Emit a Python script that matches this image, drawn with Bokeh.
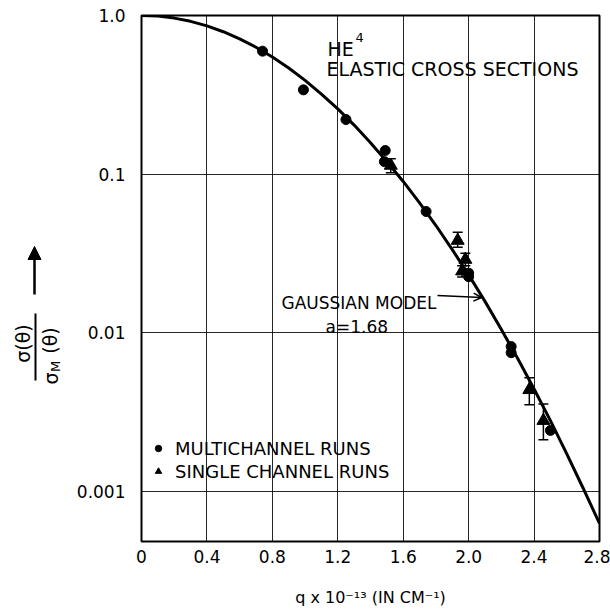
import math
from bokeh.plotting import figure
from bokeh.layouts import row
from bokeh.models import (Label, Arrow, NormalHead, OpenHead, TeeHead, Whisker,
                          ColumnDataSource, FixedTicker, Legend, LegendItem)
from bokeh.embed import file_html
from bokeh.resources import INLINE

# ---- data ----
model_q = [0.0, 0.1, 0.2, 0.3, 0.4, 0.5, 0.6, 0.7, 0.8, 0.9, 1.0, 1.1, 1.2, 1.3, 1.4,
           1.5, 1.6, 1.7, 1.8, 1.9, 2.0, 2.1, 2.2, 2.3, 2.4, 2.5, 2.6, 2.7, 2.8]
model_ratio = [1.0, 0.991, 0.963, 0.919, 0.860, 0.790, 0.713, 0.631, 0.548, 0.467,
               0.390, 0.320, 0.258, 0.204, 0.158, 0.120, 0.090, 0.066, 0.0475, 0.0335,
               0.0232, 0.0158, 0.0105, 0.0069, 0.00443, 0.00280, 0.00173, 0.00105, 0.00063]

multi_q = [0.74, 0.99, 1.25, 1.49, 1.485, 1.74, 2.00, 2.00, 2.26, 2.26, 2.50]
multi_ratio = [0.596, 0.340, 0.221, 0.141, 0.120, 0.0582, 0.0238, 0.0226, 0.0082, 0.0075, 0.00243]

single_q = [1.524, 1.933, 1.98, 1.96, 2.371, 2.457]
single_ratio = [0.1135, 0.0382, 0.0290, 0.0245, 0.00438, 0.0028]
single_hi = [0.125, 0.0431, 0.0318, 0.0265, 0.00521, 0.00357]
single_lo = [0.102, 0.0347, 0.0265, 0.0225, 0.00352, 0.00212]

x_ticks = [0.0, 0.4, 0.8, 1.2, 1.6, 2.0, 2.4, 2.8]
x_tick_labels = ["0", "0.4", "0.8", "1.2", "1.6", "2.0", "2.4", "2.8"]
y_ticks = [0.001, 0.01, 0.1, 1.0]
y_tick_labels = ["0.001", "0.01", "0.1", "1.0"]

FONT = "DejaVu Sans"

# ---- layout geometry (pixels) ----
SIDE_W = 70                      # narrow panel holding the y quantity
FL, FR, FT, FB = 141, 599, 15, 541
DEC = 158.7
Y_BOTTOM = 10 ** (-(FB - FT) / DEC)


def xd(px):
    return (px - FL) / (FR - FL) * 2.8


def yd(py):
    return 10 ** (-(py - FT) / DEC)


p = figure(width=610 - SIDE_W, height=611, x_range=(0, 2.8), y_range=(Y_BOTTOM, 1.0),
           y_axis_type="log", output_backend="svg", toolbar_location=None,
           min_border_left=FL - SIDE_W, min_border_right=610 - FR, min_border_top=FT,
           min_border_bottom=611 - FB)
p.outline_line_color = "black"
p.outline_line_width = 2
p.background_fill_color = "white"
p.border_fill_color = "white"

# axes
xa = p.xaxis[0]
xa.ticker = FixedTicker(ticks=x_ticks)
xa.major_label_overrides = dict(zip(x_ticks, x_tick_labels))
xa.major_tick_out = 0
xa.major_tick_in = 0
xa.minor_tick_line_color = None
xa.axis_line_color = None
xa.major_label_text_font = FONT
xa.major_label_text_font_size = "17px"
xa.major_label_text_color = "black"
xa.major_label_standoff = 8
xa.axis_label = "q x 10\u207b\u00b9\u00b3 (IN CM\u207b\u00b9)"
xa.axis_label_text_font = FONT
xa.axis_label_text_font_size = "16px"
xa.axis_label_text_font_style = "normal"
xa.axis_label_text_color = "black"
xa.axis_label_standoff = 22

ya = p.yaxis[0]
ya.ticker = FixedTicker(ticks=y_ticks)
ya.major_label_overrides = dict(zip(y_ticks, y_tick_labels))
ya.major_tick_out = 0
ya.major_tick_in = 0
ya.minor_tick_line_color = None
ya.axis_line_color = None
ya.major_label_text_font = FONT
ya.major_label_text_font_size = "17px"
ya.major_label_text_color = "black"
ya.major_label_standoff = 16

p.xgrid.ticker = FixedTicker(ticks=x_ticks)
p.ygrid.ticker = FixedTicker(ticks=y_ticks)
for g in (p.xgrid[0], p.ygrid[0]):
    g.grid_line_color = "black"
    g.grid_line_width = 1
    g.grid_line_alpha = 0.85

# model curve
p.line(model_q, model_ratio, line_width=3, color="black")

# error bars
src = ColumnDataSource(dict(q=single_q, hi=single_hi, lo=single_lo))
p.add_layout(Whisker(source=src, base="q", upper="hi", lower="lo", line_color="black",
                     line_width=1.5,
                     upper_head=TeeHead(size=10, line_width=1.5, line_color="black"),
                     lower_head=TeeHead(size=10, line_width=1.5, line_color="black")))

r_multi = p.scatter(multi_q, multi_ratio, marker="circle", size=10, color="black")
r_single = p.scatter(single_q, single_ratio, marker="triangle", size=13, color="black")

legend = Legend(items=[LegendItem(label="MULTICHANNEL RUNS", renderers=[r_multi]),
                       LegendItem(label="SINGLE CHANNEL RUNS", renderers=[r_single])],
                location=(9, 59), border_line_color=None, background_fill_alpha=0,
                padding=0, margin=0, spacing=1, glyph_width=16, glyph_height=22,
                label_height=20, label_standoff=9, label_text_font=FONT,
                label_text_font_size="18px", label_text_color="black")
p.add_layout(legend)

# texts inside the frame
def lab(px, py, text, size, **kw):
    p.add_layout(Label(x=xd(px), y=yd(py), text=text, text_font=FONT,
                       text_font_size=size, text_color="black", **kw))

lab(327, 48, "HE", "19px", text_baseline="alphabetic")
lab(355, 37, "4", "13px", text_baseline="alphabetic")
lab(326, 68, "ELASTIC CROSS SECTIONS", "19px", text_baseline="alphabetic")
lab(281, 302, "GAUSSIAN MODEL", "17px", text_baseline="alphabetic")
lab(325, 326, "a=1.68", "17px", text_baseline="alphabetic")

p.add_layout(Arrow(x_start=xd(437), y_start=yd(295), x_end=xd(481), y_end=yd(297),
                   line_width=1.5, line_color="black",
                   end=OpenHead(size=8, line_width=1.5, line_color="black")))

# ---- side panel: y quantity (rotated fraction with arrow) ----
s = figure(width=SIDE_W, height=611, x_range=(0, SIDE_W), y_range=(611, 0),
           output_backend="svg", toolbar_location=None,
           x_axis_location=None, y_axis_location=None,
           min_border_left=0, min_border_right=0, min_border_top=0, min_border_bottom=0)
s.grid.visible = False
s.outline_line_color = None
s.background_fill_color = "white"
s.border_fill_color = "white"


def clab(px, py, text, size):
    s.add_layout(Label(x=px, y=py, x_units="canvas", y_units="canvas", text=text,
                       text_font=FONT, text_font_size=size, text_color="black",
                       angle=math.pi / 2, text_align="center", text_baseline="middle"))


s.add_layout(Arrow(x_start=34, y_start=294, x_end=34, y_end=246,
                   start_units="canvas", end_units="canvas",
                   line_width=2.5, line_color="black",
                   end=NormalHead(size=13, fill_color="black", line_color="black")))
s.add_layout(Arrow(x_start=35, y_start=313, x_end=35, y_end=380,
                   start_units="canvas", end_units="canvas",
                   line_width=2, line_color="black", end=None))
clab(22, 343, "\u03c3(\u03b8)", "19px")
clab(50, 378, "\u03c3", "19px")
clab(55, 366, "M", "13px")
clab(49, 340, "(\u03b8)", "19px")

layout = row(s, p, spacing=0)
open("out.html", "w").write(file_html(layout, INLINE))
